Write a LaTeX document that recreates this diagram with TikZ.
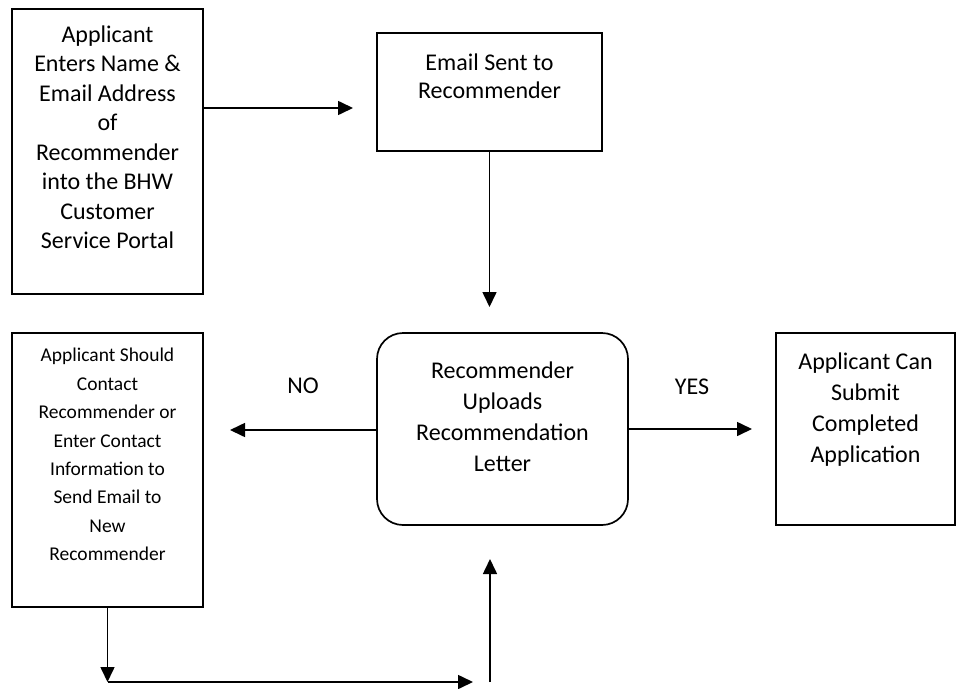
\documentclass[tikz,border=0pt]{standalone}
\usepackage{fontspec}
\setmainfont{Carlito}
\usetikzlibrary{positioning, arrows.meta}

\tikzset{
  stepbox/.style={draw, line width=1.7pt, rectangle},
  roundbox/.style={draw, line width=1.7pt, rectangle, rounded corners=26pt},
  boxtext/.style={inner sep=0pt, align=center, font=\fontsize{24}{29.5}\selectfont},
  flow/.style={line width=1.6pt, -{Triangle[length=15pt, width=14pt]}},
  lbl/.style={inner sep=0pt, font=\fontsize{24}{29}\selectfont}
}

\begin{document}
\begin{tikzpicture}[x=1pt, y=-1pt]
        \useasboundingbox (0,0) rectangle (957,688);

        % Boxes
        \node[stepbox, minimum width=191pt, minimum height=285pt] (enter) at (107.5,151.5) {};
        \node[stepbox, minimum width=225pt, minimum height=118pt] (email) at (489.5,92) {};
        \node[roundbox, minimum width=251pt, minimum height=192pt] (upload) at (502.5,429) {};
        \node[stepbox, minimum width=191pt, minimum height=274pt] (newrec) at (107.5,470) {};
        \node[stepbox, minimum width=179pt, minimum height=192pt] (submit) at (865.5,429) {};

        % Texts in the boxes
        \node[boxtext, below=17pt of enter.north] (entertxt)
            {Applicant\\Enters Name \&\\Email Address\\of\\Recommender\\into the BHW\\Customer\\Service Portal};
        \node[boxtext, font=\fontsize{24}{28}\selectfont, below=21pt of email.north] (emailtxt)
            {Email Sent to\\Recommender};
        \node[boxtext, font=\fontsize{24}{31}\selectfont, below=29pt of upload.north] (uploadtxt)
            {Recommender\\Uploads\\Recommendation\\Letter};
        \node[boxtext, font=\fontsize{19.5}{28.4}\selectfont, below=16pt of newrec.north] (newrectxt)
            {Applicant Should\\Contact\\Recommender or\\Enter Contact\\Information to\\Send Email to\\New\\Recommender};
        \node[boxtext, font=\fontsize{24}{31}\selectfont, below=20pt of submit.north] (submittxt)
            {Applicant Can\\Submit\\Completed\\Application};

        % Arrow ends
        \coordinate (toemail) at (353,108);
        \coordinate (toupload) at (489.5,307);
        \coordinate (tonew) at (230,430);
        \coordinate (tosubmit) at (752,429);
        \coordinate (corner) at (107.5,682);
        \coordinate (loopend) at (473,682);
        \coordinate (loopstart) at (490,682);
        \coordinate (loopup) at (490,559);

        % Arrows
        \draw[flow] (enter.east |- toemail) -- (toemail);
        \draw[flow] (email.south) -- (toupload);
        \draw[flow] (upload.west |- tonew) -- (tonew);
        \draw[flow] (upload.east) -- (tosubmit);
        \draw[flow] (newrec.south) -- (corner);
        \draw[flow] (corner) -- (loopend);
        \draw[flow] (loopstart) -- (loopup);

        % Answers
        \node[lbl] (no) at (303,386) {NO};
        \node[lbl] (yes) at (692,387) {YES};
\end{tikzpicture}
\end{document}
